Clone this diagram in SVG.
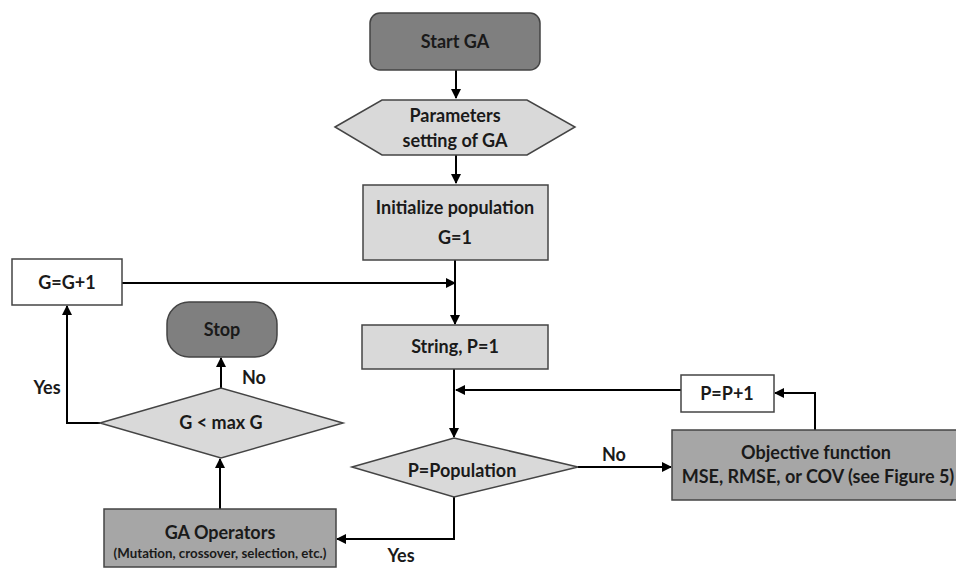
<svg xmlns="http://www.w3.org/2000/svg" width="956" height="569" viewBox="0 0 956 569">
<style>
.t{font-family:Lato,"Open Sans","Liberation Sans",sans-serif;font-weight:bold;fill:#1a1a1a;text-anchor:middle;font-size:18px}
.s{font-size:13.3px}
.c{fill:none;stroke:#000;stroke-width:2}
.dk{fill:#7f7f7f;stroke:#444;stroke-width:1.5}
.md{fill:#a6a6a6;stroke:#444;stroke-width:1.5}
.lt{fill:#d9d9d9;stroke:#444;stroke-width:1.5}
.wh{fill:#fff;stroke:#444;stroke-width:1.5}
</style>
<defs>
<marker id="a" markerWidth="10" markerHeight="10" refX="9" refY="5" orient="auto" markerUnits="userSpaceOnUse">
<path d="M0,0 L10,5 L0,10 z" fill="#000"/>
</marker>
</defs>
<rect width="956" height="569" fill="#fff"/>
<g id="connectors">
<path class="c" d="M456,70 V98" marker-end="url(#a)"/>
<path class="c" d="M456,155 V183" marker-end="url(#a)"/>
<path class="c" d="M455,260 V324" marker-end="url(#a)"/>
<path class="c" d="M122,283 H455" marker-end="url(#a)"/>
<path class="c" d="M454,369 V437" marker-end="url(#a)"/>
<path class="c" d="M681,390 H456" marker-end="url(#a)"/>
<path class="c" d="M815,430 V393 H775" marker-end="url(#a)"/>
<path class="c" d="M578,467 H671" marker-end="url(#a)"/>
<path class="c" d="M454,497 V539 H337" marker-end="url(#a)"/>
<path class="c" d="M220,509 V459" marker-end="url(#a)"/>
<path class="c" d="M221,388 V358" marker-end="url(#a)"/>
<path class="c" d="M100,423 H67 V306" marker-end="url(#a)"/>
<text class="t" x="254" y="384">No</text>
<text class="t" x="47" y="394">Yes</text>
<text class="t" x="614" y="461">No</text>
<text class="t" x="401" y="562">Yes</text>
</g>
<g id="start">
<rect class="dk" x="370" y="13" width="170" height="57" rx="10"/>
<text class="t" x="455" y="48">Start GA</text>
</g>
<g id="params">
<polygon class="lt" points="335,127 382,100 527,100 575,127 527,155 382,155"/>
<text class="t" x="455" y="122">Parameters</text>
<text class="t" x="455" y="147">setting of GA</text>
</g>
<g id="init">
<rect class="lt" x="363" y="185" width="185" height="75"/>
<text class="t" x="455" y="214">Initialize population</text>
<text class="t" x="455" y="244">G=1</text>
</g>
<g id="ginc">
<rect class="wh" x="12" y="259" width="110" height="46"/>
<text class="t" x="67" y="289">G=G+1</text>
</g>
<g id="stop">
<rect class="dk" x="167" y="302" width="110" height="55" rx="22"/>
<text class="t" x="222" y="336">Stop</text>
</g>
<g id="string">
<rect class="lt" x="362" y="325" width="186" height="44"/>
<text class="t" x="455" y="353">String, P=1</text>
</g>
<g id="gmax">
<polygon class="lt" points="100,423 221,388 343,423 221,458"/>
<text class="t" x="221" y="429">G &lt; max G</text>
</g>
<g id="pinc">
<rect class="wh" x="681" y="375" width="93" height="37"/>
<text class="t" x="727" y="400">P=P+1</text>
</g>
<g id="ppop">
<polygon class="lt" points="352,467 454,438 578,467 454,497"/>
<text class="t" x="462" y="477">P=Population</text>
</g>
<g id="objective">
<rect class="md" x="672" y="430" width="300" height="70"/>
<text class="t" x="816" y="459">Objective function</text>
<text class="t" x="818" y="483">MSE, RMSE, or COV (see Figure 5)</text>
</g>
<g id="gaops">
<rect class="md" x="104" y="509" width="232" height="58"/>
<text class="t" x="220" y="539">GA Operators</text>
<text class="t s" x="220" y="558">(Mutation, crossover, selection, etc.)</text>
</g>
</svg>
